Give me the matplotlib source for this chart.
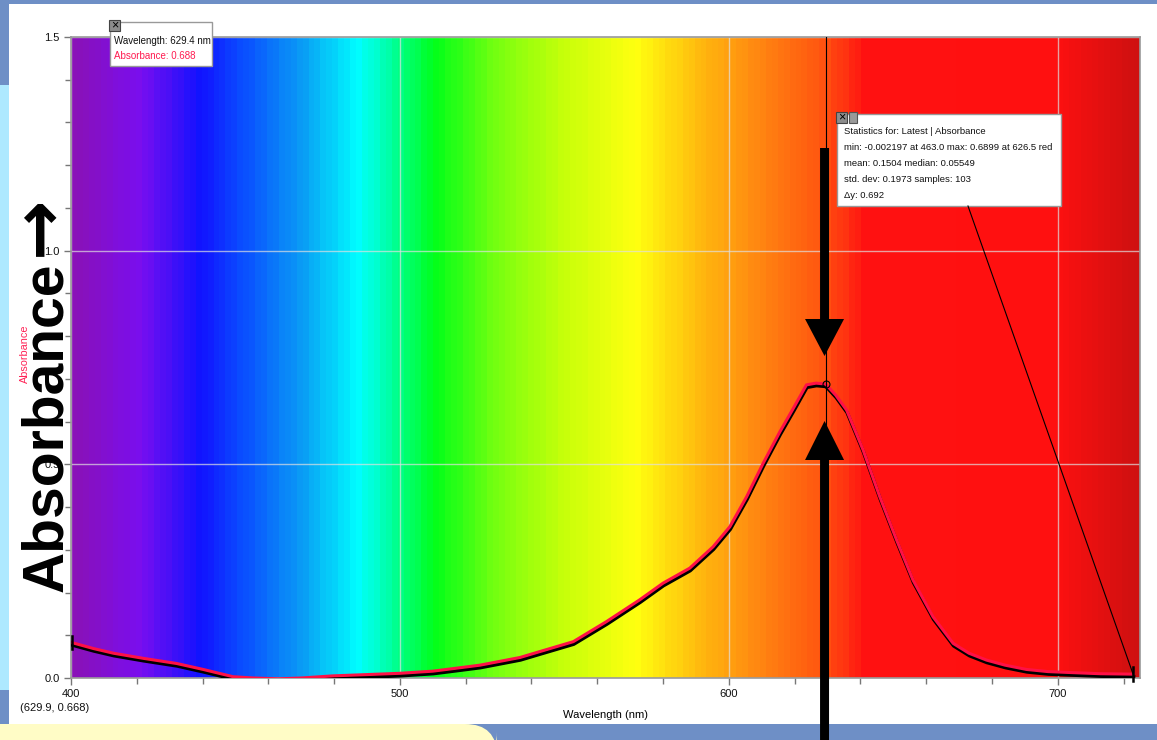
import numpy as np
import matplotlib
matplotlib.use('Agg')
import matplotlib.pyplot as plt
from matplotlib.colors import LinearSegmentedColormap
from matplotlib.patches import Rectangle, Polygon, FancyBboxPatch
from matplotlib.ticker import MultipleLocator
from matplotlib.transforms import offset_copy

plt.rcParams['font.family'] = ['Liberation Sans', 'DejaVu Sans']

# absorbance spectrum (latest run)
wavelength_nm = [400.2, 406.8, 412.9, 422.0, 432.1, 440.2, 449.3, 455.4, 463.0, 470.0,
                 479.7, 490.0, 500.0, 510.0, 517.2, 524.3, 536.5, 542.6, 552.7, 562.8,
                 572.9, 580.0, 588.1, 595.2, 600.3, 605.4, 610.4, 615.5, 619.6, 623.6,
                 626.5, 629.4, 632.5, 635.8, 640.8, 645.9, 651.0, 656.0, 662.1, 668.2,
                 673.0, 678.3, 684.0, 690.5, 697.0, 704.7, 713.0, 722.9]
absorbance = [0.083, 0.069, 0.058, 0.046, 0.034, 0.020, 0.003, 0.000, -0.002, 0.000,
              0.005, 0.008, 0.011, 0.016, 0.023, 0.030, 0.048, 0.062, 0.085, 0.132,
              0.183, 0.222, 0.257, 0.307, 0.354, 0.424, 0.502, 0.576, 0.631, 0.686,
              0.690, 0.688, 0.662, 0.627, 0.534, 0.424, 0.323, 0.229, 0.143, 0.081,
              0.058, 0.042, 0.030, 0.020, 0.015, 0.0125, 0.010, 0.009]

# visible spectrum backdrop
spectrum_nm = [400, 420, 438, 452, 470, 487, 510, 530, 550, 572, 592, 612, 630, 642, 700, 725]
spectrum_col = ['#8a12b8', '#7a0ef0', '#1212ff', '#0a50ff', '#0aa0f5', '#00ffff', '#00ff1a',
                '#7cff10', '#c8ff0a', '#ffff10', '#ffb80e', '#ff8012', '#ff5210', '#ff1212',
                '#ff1010', '#d01010']

cursor_nm = 629.4
cursor_abs = 0.688
cursor_text = ['Wavelength: 629.4 nm', 'Absorbance: 0.688']
stats_text = ['Statistics for: Latest | Absorbance',
              'min: -0.002197 at 463.0 max: 0.6899 at 626.5 red',
              'mean: 0.1504 median: 0.05549',
              'std. dev: 0.1973 samples: 103',
              '\u0394y: 0.692']
examine_text = '(629.9, 0.668)'

xmin, xmax = 400, 725
ymin, ymax = 0, 1.5

W, H = 1157, 740
fig = plt.figure(figsize=(W / 100, H / 100), dpi=100)
fig.patch.set_facecolor('#6e8fc6')

# page behind the graph
bg = fig.add_axes([0, 0, 1, 1], zorder=0)
bg.set_xlim(0, W)
bg.set_ylim(H, 0)
bg.axis('off')
bg.add_patch(Rectangle((9, 4), W - 9, 720, color='white', lw=0))
bg.add_patch(Rectangle((0, 85), 9, 605, color='#aee9ff', lw=0))
bg.add_patch(FancyBboxPatch((-60, 724), 557, 40, boxstyle='round,pad=0,rounding_size=32',
                            color='#fffcc6', lw=0))

ax = fig.add_axes([71 / W, 62 / H, (1140 - 71) / W, (678 - 37) / H], zorder=1)

pos = [(v - xmin) / (xmax - xmin) for v in spectrum_nm]
cmap = LinearSegmentedColormap.from_list('spec', list(zip(pos, spectrum_col)))
band = cmap(np.linspace(0, 1, 180))[np.newaxis, :, :]
ax.imshow(band, extent=[xmin, xmax, ymin, ymax], aspect='auto', interpolation='nearest', zorder=0)

ax.set_xlim(xmin, xmax)
ax.set_ylim(ymin, ymax)
ax.set_xticks([400, 500, 600, 700])
ax.set_yticks([0, 0.5, 1.0, 1.5])
ax.set_yticklabels(['0.0', '0.5', '1.0', '1.5'])
ax.xaxis.set_minor_locator(MultipleLocator(20))
ax.yaxis.set_minor_locator(MultipleLocator(0.1))
ax.tick_params(which='both', direction='out', color='#777777', labelsize=8, labelcolor='#111111')
ax.tick_params(which='major', length=5, width=1, pad=3)
ax.tick_params(which='minor', length=4, width=1)
for s in ax.spines.values():
    s.set_color('#999999')
    s.set_linewidth(1.2)
ax.grid(True, which='major', color='#e0e0e0', lw=1, alpha=0.7, zorder=1)

# spectrum traces
shifted = offset_copy(ax.transData, fig=fig, x=0.5, y=-2.5, units='dots')
ax.plot(wavelength_nm, absorbance, color='black', lw=2.5, transform=shifted, zorder=3,
        solid_joinstyle='round')
ax.plot(wavelength_nm, absorbance, color='#ff1046', lw=2.2, zorder=4, solid_joinstyle='round')

# range brackets at the ends of the selection
for i in (0, -1):
    ax.plot([wavelength_nm[i]] * 2, [absorbance[i] - 0.016, absorbance[i] + 0.016],
            color='black', lw=1.8, zorder=5, clip_on=False)

# examine cursor
ax.axvline(cursor_nm, color='black', lw=0.8, zorder=5)
ax.plot([cursor_nm], [cursor_abs], 'o', ms=5, mfc='none', mec='black', mew=0.8, zorder=6)

ax.set_xlabel('Wavelength (nm)', fontsize=8, labelpad=8)

# overlay for callouts, in pixel coordinates
fg = fig.add_axes([0, 0, 1, 1], zorder=3)
fg.set_xlim(0, W)
fg.set_ylim(H, 0)
fg.axis('off')
fg.patch.set_alpha(0)

fg.text(20, 708, examine_text, fontsize=8, color='#111111', ha='left', va='center')

# cursor readout
fg.add_patch(Rectangle((110, 22), 102, 44, facecolor='white', edgecolor='#999999', lw=1))
fg.add_patch(Rectangle((109, 20), 11, 11, facecolor='#8c8c8c', edgecolor='#444444', lw=0.8))
fg.text(114.5, 25.5, '\u00d7', fontsize=9, ha='center', va='center', color='black')
fg.text(114, 41, cursor_text[0], fontsize=7, va='center', color='#111111')
fg.text(114, 56, cursor_text[1], fontsize=7, va='center', color='#ff1a50')

# statistics box
fg.add_patch(Rectangle((837, 114), 224, 92, facecolor='white', edgecolor='#999999', lw=1))
fg.add_patch(Rectangle((836, 112), 11, 11, facecolor='#8c8c8c', edgecolor='#444444', lw=0.8))
fg.add_patch(Rectangle((849, 112), 8, 11, facecolor='#9a9a9a', edgecolor='#555555', lw=0.8))
fg.text(841.5, 117.5, '\u00d7', fontsize=9, ha='center', va='center', color='black')
for k, line in enumerate(stats_text):
    fg.text(844, 132 + 16 * k, line, fontsize=6.8, va='center', color='#111111')

# leader from the statistics box to the end of the selection
ex, ey = ax.transData.transform((wavelength_nm[-1], absorbance[-1]))
fg.plot([968, ex], [206, H - ey], color='black', lw=0.8)

# big arrows pointing at the peak
px, py = ax.transData.transform((cursor_nm, cursor_abs))
cx, cy = px - 1, H - py
down = [(cx - 4.5, 148), (cx + 4.5, 148), (cx + 4.5, cy - 65), (cx + 19.5, cy - 65),
        (cx, cy - 28), (cx - 19.5, cy - 65), (cx - 4.5, cy - 65)]
up = [(cx, cy + 37), (cx + 19.5, cy + 76), (cx + 4.5, cy + 76), (cx + 4.5, H + 5),
      (cx - 4.5, H + 5), (cx - 4.5, cy + 76), (cx - 19.5, cy + 76)]
for pts in (down, up):
    fg.add_patch(Polygon(pts, closed=True, facecolor='black', edgecolor='none'))

# axis title, large and small
fg.text(62, 592, 'Absorbance', rotation=90, rotation_mode='anchor', fontsize=41,
        fontweight='bold', ha='left', va='baseline', color='black')
fg.text(59, 226, '\u2192', rotation=90, rotation_mode='anchor', fontsize=52,
        fontweight='bold', ha='center', va='baseline', color='black', family=['DejaVu Sans'])
fg.text(28, 354, 'Absorbance', rotation=90, rotation_mode='anchor', fontsize=7.8,
        color='#ff2255', ha='center', va='baseline', zorder=5)

fig.savefig('out.png', dpi=100)
